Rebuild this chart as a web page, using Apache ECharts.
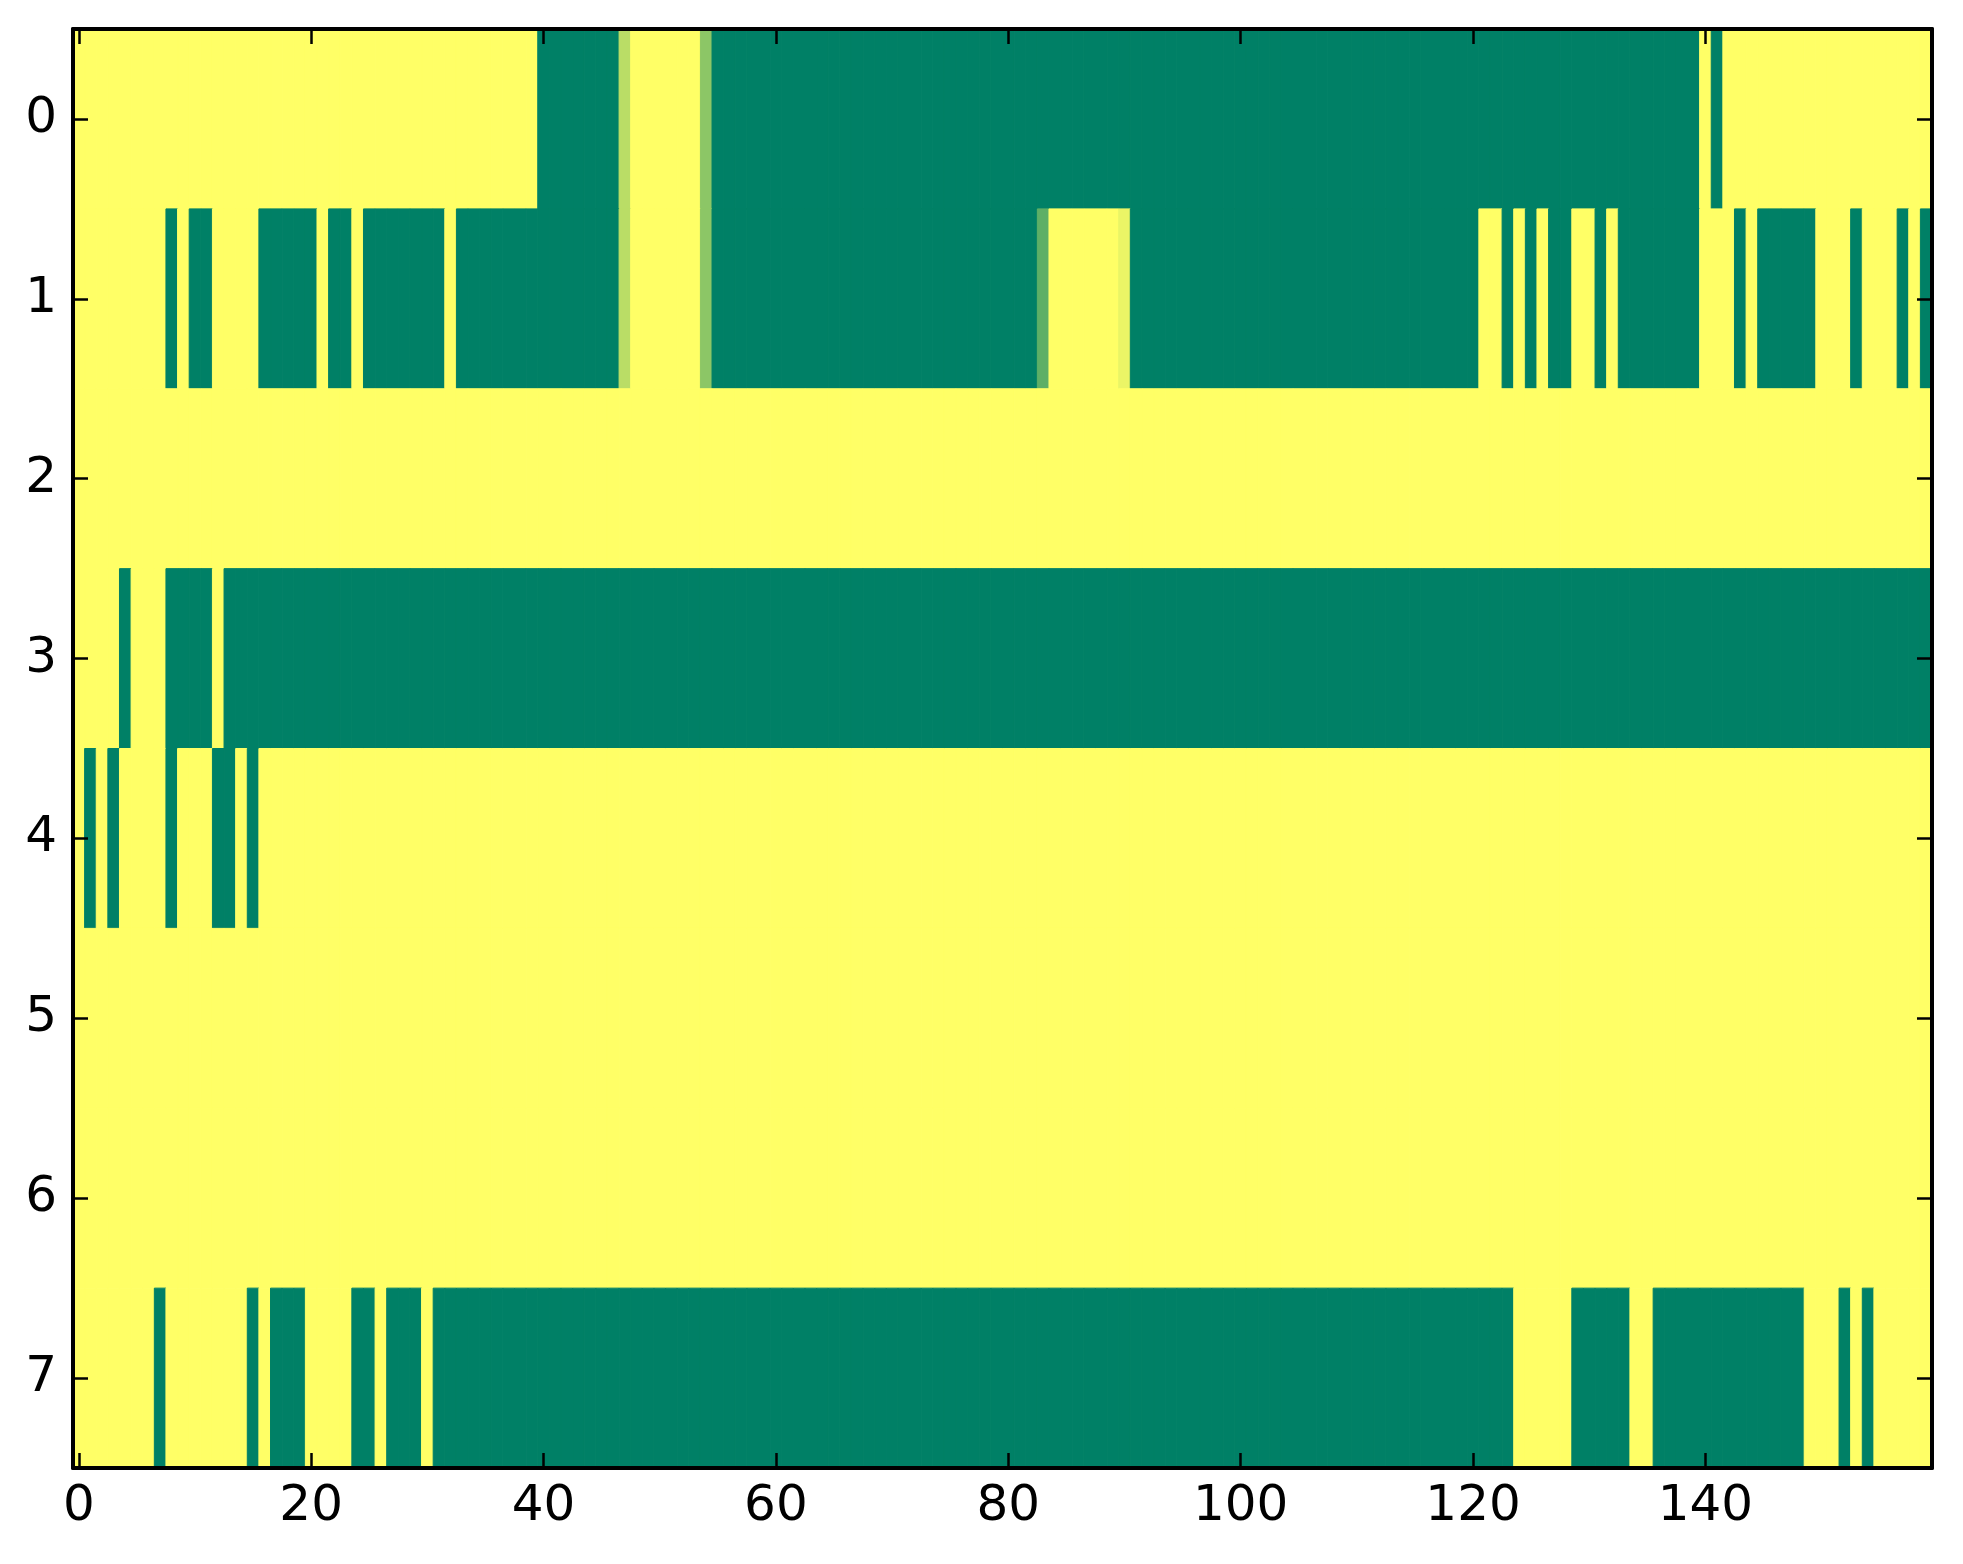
<!DOCTYPE html>
<html>
<head>
<meta charset="utf-8">
<script src="https://cdn.jsdelivr.net/npm/echarts@6/dist/echarts.min.js"></script>
<style>
html,body{margin:0;padding:0;background:#fff;}
#chart{width:1963px;height:1564px;}
</style>
</head>
<body>
<div id="chart"></div>
<script>
// Column categories (0..159) and row categories (0..7)
const xLabels = [
  0,1,2,3,4,5,6,7,8,9,10,11,12,13,14,15,16,17,18,19,
  20,21,22,23,24,25,26,27,28,29,30,31,32,33,34,35,36,37,38,39,
  40,41,42,43,44,45,46,47,48,49,50,51,52,53,54,55,56,57,58,59,
  60,61,62,63,64,65,66,67,68,69,70,71,72,73,74,75,76,77,78,79,
  80,81,82,83,84,85,86,87,88,89,90,91,92,93,94,95,96,97,98,99,
  100,101,102,103,104,105,106,107,108,109,110,111,112,113,114,115,116,117,118,119,
  120,121,122,123,124,125,126,127,128,129,130,131,132,133,134,135,136,137,138,139,
  140,141,142,143,144,145,146,147,148,149,150,151,152,153,154,155,156,157,158,159
];
const yLabels = [0,1,2,3,4,5,6,7];

const row0 = [
  1,1,1,1,1,1,1,1,1,1,1,1,1,1,1,1,1,1,1,1,
  1,1,1,1,1,1,1,1,1,1,1,1,1,1,1,1,1,1,1,1,
  0,0,0,0,0,0,0,0.73,1,1,1,1,1,1,0.55,0,0,0,0,0,
  0,0,0,0,0,0,0,0,0,0,0,0,0,0,0,0,0,0,0,0,
  0,0,0,0,0,0,0,0,0,0,0,0,0,0,0,0,0,0,0,0,
  0,0,0,0,0,0,0,0,0,0,0,0,0,0,0,0,0,0,0,0,
  0,0,0,0,0,0,0,0,0,0,0,0,0,0,0,0,0,0,0,0,
  1,0,1,1,1,1,1,1,1,1,1,1,1,1,1,1,1,1,1,1
];
const row1 = [
  1,1,1,1,1,1,1,1,0,1,0,0,1,1,1,1,0,0,0,0,
  0,1,0,0,1,0,0,0,0,0,0,0,1,0,0,0,0,0,0,0,
  0,0,0,0,0,0,0,0.73,1,1,1,1,1,1,0.55,0,0,0,0,0,
  0,0,0,0,0,0,0,0,0,0,0,0,0,0,0,0,0,0,0,0,
  0,0,0,0.37,1,1,1,1,1,1,0.92,0,0,0,0,0,0,0,0,0,
  0,0,0,0,0,0,0,0,0,0,0,0,0,0,0,0,0,0,0,0,
  0,1,1,0,1,0,1,0,0,1,1,0,1,0,0,0,0,0,0,0,
  1,1,1,0,1,0,0,0,0,0,1,1,1,0,1,1,1,0,1,0
];
const row2 = [
  1,1,1,1,1,1,1,1,1,1,1,1,1,1,1,1,1,1,1,1,
  1,1,1,1,1,1,1,1,1,1,1,1,1,1,1,1,1,1,1,1,
  1,1,1,1,1,1,1,1,1,1,1,1,1,1,1,1,1,1,1,1,
  1,1,1,1,1,1,1,1,1,1,1,1,1,1,1,1,1,1,1,1,
  1,1,1,1,1,1,1,1,1,1,1,1,1,1,1,1,1,1,1,1,
  1,1,1,1,1,1,1,1,1,1,1,1,1,1,1,1,1,1,1,1,
  1,1,1,1,1,1,1,1,1,1,1,1,1,1,1,1,1,1,1,1,
  1,1,1,1,1,1,1,1,1,1,1,1,1,1,1,1,1,1,1,1
];
const row3 = [
  1,1,1,1,0,1,1,1,0,0,0,0,1,0,0,0,0,0,0,0,
  0,0,0,0,0,0,0,0,0,0,0,0,0,0,0,0,0,0,0,0,
  0,0,0,0,0,0,0,0,0,0,0,0,0,0,0,0,0,0,0,0,
  0,0,0,0,0,0,0,0,0,0,0,0,0,0,0,0,0,0,0,0,
  0,0,0,0,0,0,0,0,0,0,0,0,0,0,0,0,0,0,0,0,
  0,0,0,0,0,0,0,0,0,0,0,0,0,0,0,0,0,0,0,0,
  0,0,0,0,0,0,0,0,0,0,0,0,0,0,0,0,0,0,0,0,
  0,0,0,0,0,0,0,0,0,0,0,0,0,0,0,0,0,0,0,0
];
const row4 = [
  1,0,1,0,1,1,1,1,0,1,1,1,0,0,1,0,1,1,1,1,
  1,1,1,1,1,1,1,1,1,1,1,1,1,1,1,1,1,1,1,1,
  1,1,1,1,1,1,1,1,1,1,1,1,1,1,1,1,1,1,1,1,
  1,1,1,1,1,1,1,1,1,1,1,1,1,1,1,1,1,1,1,1,
  1,1,1,1,1,1,1,1,1,1,1,1,1,1,1,1,1,1,1,1,
  1,1,1,1,1,1,1,1,1,1,1,1,1,1,1,1,1,1,1,1,
  1,1,1,1,1,1,1,1,1,1,1,1,1,1,1,1,1,1,1,1,
  1,1,1,1,1,1,1,1,1,1,1,1,1,1,1,1,1,1,1,1
];
const row5 = [
  1,1,1,1,1,1,1,1,1,1,1,1,1,1,1,1,1,1,1,1,
  1,1,1,1,1,1,1,1,1,1,1,1,1,1,1,1,1,1,1,1,
  1,1,1,1,1,1,1,1,1,1,1,1,1,1,1,1,1,1,1,1,
  1,1,1,1,1,1,1,1,1,1,1,1,1,1,1,1,1,1,1,1,
  1,1,1,1,1,1,1,1,1,1,1,1,1,1,1,1,1,1,1,1,
  1,1,1,1,1,1,1,1,1,1,1,1,1,1,1,1,1,1,1,1,
  1,1,1,1,1,1,1,1,1,1,1,1,1,1,1,1,1,1,1,1,
  1,1,1,1,1,1,1,1,1,1,1,1,1,1,1,1,1,1,1,1
];
const row6 = [
  1,1,1,1,1,1,1,1,1,1,1,1,1,1,1,1,1,1,1,1,
  1,1,1,1,1,1,1,1,1,1,1,1,1,1,1,1,1,1,1,1,
  1,1,1,1,1,1,1,1,1,1,1,1,1,1,1,1,1,1,1,1,
  1,1,1,1,1,1,1,1,1,1,1,1,1,1,1,1,1,1,1,1,
  1,1,1,1,1,1,1,1,1,1,1,1,1,1,1,1,1,1,1,1,
  1,1,1,1,1,1,1,1,1,1,1,1,1,1,1,1,1,1,1,1,
  1,1,1,1,1,1,1,1,1,1,1,1,1,1,1,1,1,1,1,1,
  1,1,1,1,1,1,1,1,1,1,1,1,1,1,1,1,1,1,1,1
];
const row7 = [
  1,1,1,1,1,1,1,0,1,1,1,1,1,1,1,0,1,0,0,0,
  1,1,1,1,0,0,1,0,0,0,1,0,0,0,0,0,0,0,0,0,
  0,0,0,0,0,0,0,0,0,0,0,0,0,0,0,0,0,0,0,0,
  0,0,0,0,0,0,0,0,0,0,0,0,0,0,0,0,0,0,0,0,
  0,0,0,0,0,0,0,0,0,0,0,0,0,0,0,0,0,0,0,0,
  0,0,0,0,0,0,0,0,0,0,0,0,0,0,0,0,0,0,0,0,
  0,0,0,0,1,1,1,1,1,0,0,0,0,0,1,1,0,0,0,0,
  0,0,0,0,0,0,0,0,0,1,1,1,0,1,0,1,1,1,1,1
];

const rows = [row0, row1, row2, row3, row4, row5, row6, row7];
const heatData = [];
rows.forEach(function (r, yi) {
  r.forEach(function (v, xi) { heatData.push([xi, yi, v]); });
});

const FONT = 'DejaVu Sans';
const tickStyle = { color: '#000', width: 2.5 };
const lineStyle = { color: '#000', width: 4 };

const chart = echarts.init(document.getElementById('chart'), null, { renderer: 'canvas' });
chart.setOption({
  animation: false,
  backgroundColor: '#ffffff',
  grid: { left: 73, right: 31, top: 29, bottom: 96, containLabel: false },
  xAxis: [
    {
      type: 'category', data: xLabels, position: 'bottom', z: 20,
      axisLine: { show: true, lineStyle: lineStyle },
      axisTick: { show: true, inside: true, length: 15, interval: 19, alignWithLabel: true, lineStyle: tickStyle },
      axisLabel: { show: true, interval: 19, margin: 14, fontFamily: FONT, fontSize: 50, color: '#000' },
      splitLine: { show: false }
    },
    {
      type: 'category', data: xLabels, position: 'top', z: 20,
      axisLine: { show: true, lineStyle: lineStyle },
      axisTick: { show: true, inside: true, length: 15, interval: 19, alignWithLabel: true, lineStyle: tickStyle },
      axisLabel: { show: false },
      splitLine: { show: false }
    }
  ],
  yAxis: [
    {
      type: 'category', data: yLabels, inverse: true, position: 'left', z: 20,
      axisLine: { show: true, lineStyle: lineStyle },
      axisTick: { show: true, inside: true, length: 15, interval: 0, alignWithLabel: true, lineStyle: tickStyle },
      axisLabel: { show: true, interval: 0, margin: 16, fontFamily: FONT, fontSize: 50, color: '#000' },
      splitLine: { show: false }
    },
    {
      type: 'category', data: yLabels, inverse: true, position: 'right', z: 20,
      axisLine: { show: true, lineStyle: lineStyle },
      axisTick: { show: true, inside: true, length: 15, interval: 0, alignWithLabel: true, lineStyle: tickStyle },
      axisLabel: { show: false },
      splitLine: { show: false }
    }
  ],
  visualMap: {
    show: false, type: 'continuous', min: 0, max: 1, dimension: 2, seriesIndex: 0,
    inRange: { color: ['#008066', '#ffff66'] }
  },
  series: [{
    type: 'custom', xAxisIndex: 0, yAxisIndex: 0, z: 2,
    data: heatData,
    encode: { x: 0, y: 1 },
    renderItem: function (params, api) {
      const c = api.coord([api.value(0), api.value(1)]);
      const s = api.size([1, 1]);
      const color = api.visual('color');
      return {
        type: 'rect',
        shape: { x: c[0] - s[0] / 2, y: c[1] - s[1] / 2, width: s[0], height: s[1] },
        style: { fill: color, stroke: color, lineWidth: 1 },
        silent: true
      };
    }
  }]
});
</script>
</body>
</html>
